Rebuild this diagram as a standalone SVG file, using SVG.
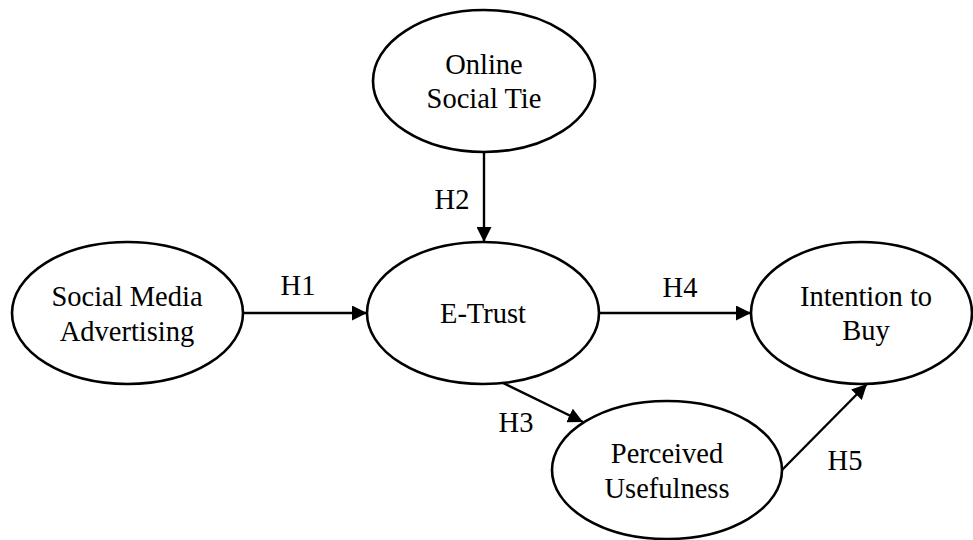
<svg xmlns="http://www.w3.org/2000/svg" width="973" height="540" viewBox="0 0 973 540">
<style>
.node ellipse{fill:#fff;stroke:#000;stroke-width:2.6}
text{font-family:"Liberation Serif","Times New Roman",serif;font-size:28.5px;fill:#000;text-anchor:middle}
.conn line{stroke:#000;stroke-width:2.4}
</style>
<defs>
<marker id="ah" markerUnits="userSpaceOnUse" markerWidth="15" markerHeight="15" refX="15" refY="7.5" orient="auto">
<path d="M0,0 L15,7.5 L0,15 z" fill="#000"/>
</marker>
</defs>
<rect width="973" height="540" fill="#fff"/>
<g id="connectors" class="conn">
<line x1="484" y1="152" x2="484" y2="242" marker-end="url(#ah)"/>
<line x1="243" y1="313" x2="367" y2="313" marker-end="url(#ah)"/>
<line x1="599" y1="313" x2="751" y2="313" marker-end="url(#ah)"/>
<line x1="503" y1="383" x2="583" y2="422" marker-end="url(#ah)"/>
<line x1="782" y1="470" x2="867" y2="384" marker-end="url(#ah)"/>
<text x="452" y="209">H2</text>
<text x="298" y="295">H1</text>
<text x="680" y="297">H4</text>
<text x="516" y="432">H3</text>
<text x="845" y="470">H5</text>
</g>
<g id="online-social-tie" class="node">
<ellipse cx="484" cy="81" rx="111" ry="71"/>
<text x="484" y="74">Online</text>
<text x="484" y="108">Social Tie</text>
</g>
<g id="social-media-advertising" class="node">
<ellipse cx="127.5" cy="313" rx="115.5" ry="71"/>
<text x="127" y="306">Social Media</text>
<text x="127" y="341">Advertising</text>
</g>
<g id="e-trust" class="node">
<ellipse cx="483" cy="313" rx="116" ry="71"/>
<text x="483" y="323">E-Trust</text>
</g>
<g id="intention-to-buy" class="node">
<ellipse cx="861.5" cy="313" rx="110.5" ry="71"/>
<text x="866" y="306">Intention to</text>
<text x="866" y="340">Buy</text>
</g>
<g id="perceived-usefulness" class="node">
<ellipse cx="667" cy="470" rx="115" ry="69"/>
<text x="667" y="463">Perceived</text>
<text x="667" y="498">Usefulness</text>
</g>
</svg>
